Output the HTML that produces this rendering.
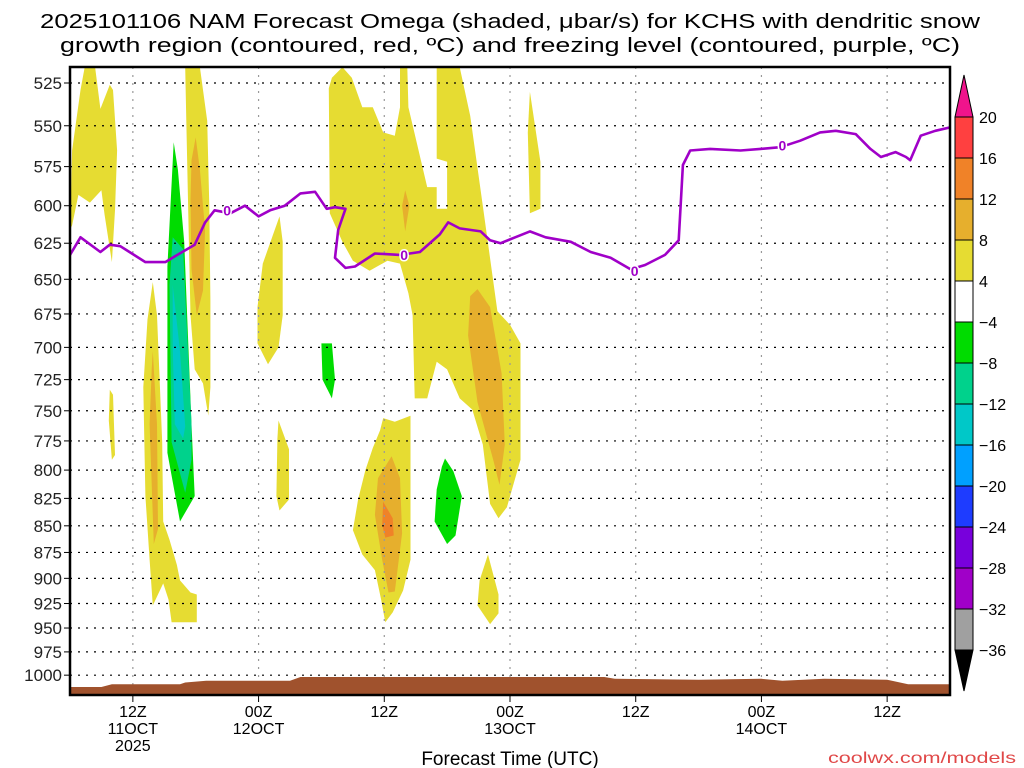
<!DOCTYPE html>
<html><head><meta charset="utf-8"><style>
html,body{margin:0;padding:0;background:#fff;width:1024px;height:768px;overflow:hidden}
svg{display:block;font-family:"Liberation Sans",sans-serif}
</style></head><body>
<svg id="chart" width="1024" height="768" viewBox="0 0 1024 768" xmlns="http://www.w3.org/2000/svg">
<text x="510" y="28" font-size="20" text-anchor="middle" textLength="940" lengthAdjust="spacingAndGlyphs" fill="#000">2025101106 NAM Forecast Omega (shaded, μbar/s) for KCHS with dendritic snow</text>
<text x="510" y="52" font-size="20" text-anchor="middle" textLength="900" lengthAdjust="spacingAndGlyphs" fill="#000">growth region (contoured, red, ºC) and freezing level (contoured, purple, ºC)</text>
<g id="plot"></g>
<g id="cbar"></g>
<text x="510" y="765" font-size="19" text-anchor="middle" fill="#000">Forecast Time (UTC)</text>
<text x="1016" y="763" font-size="16" text-anchor="end" fill="#e04848" textLength="188" lengthAdjust="spacingAndGlyphs">coolwx.com/models</text>
</svg>
<script>
// ---- data ----
const pressureTicks = [525,550,575,600,625,650,675,700,725,750,775,800,825,850,875,900,925,950,975,1000];
const timeTickHours = [6,18,30,42,54,66,78];
const timeTickLabels = [["12Z","11OCT","2025"],["00Z","12OCT"],["12Z"],["00Z","13OCT"],["12Z"],["00Z","14OCT"],["12Z"]];
const freezeHours = [0,1.0,2.9,3.8,4.8,7.2,9.1,10.0,11.9,12.9,13.8,15.3,16.7,18.0,19.1,20.5,22.0,23.4,24.5,25.3,26.3,25.6,25.3,26.3,27.2,29.1,31.5,33.4,35.3,36.1,37.2,39.2,40.1,41.1,42.5,43.9,45.4,47.8,49.7,51.6,53.5,54.9,56.8,58.1,58.5,59.2,61.1,64.0,65.9,67.8,69.7,71.6,73.1,75.0,76.4,77.4,78.8,79.8,80.2,81.2,82.6,84];
const freezePressure = [633,621,631,626,627,638,638,634,626,611,603,605,600,607,603,600,592,591,602,601,602,616,635,642,641,632,633,631,619,611,615,617,623,625,621,617,621,624,631,635,643,640,633,623,574,565,564,565,564,563,559,554,553,555,564,569,566,569,571,556,553,551];
const freezeLabelHours = [15.0,31.9,53.9,68.0];
const freezeLabelPressure = [603,633,644,562];
const terrainHours = [0,3.0,4.0,10.5,11.0,13.0,21.0,22.0,51.0,52,60,66,68,72,78,80,84];
const terrainPressure = [1013,1013,1010,1010,1008,1006,1006,1002,1002,1004,1005,1004,1006,1004,1005,1010,1010];
const cbarLevels = [20,16,12,8,4,-4,-8,-12,-16,-20,-24,-28,-32,-36];
const cbarColors = ["#ff4040","#f08228","#e6af2d","#e6dc32","#ffffff","#00dc00","#00d28c","#00c8c8","#00a0ff","#1e3cff","#7800dc","#a000c8","#a0a0a0"];
// omega shaded regions: [level, [hour, hPa] ...]
const omegaLevels = [4,4,4,4,8,-4,-8,-12,4,8,4,4,-4,4,8,8,4,4,8,12,-4,4];
const omegaRegions = [
 [[0,616],[0.2,565],[1,529],[1.4,516],[2.4,516],[2.9,540],[3.8,526],[4.1,529],[4.5,565],[4.3,603],[4.0,638],[3.3,606],[3.0,590],[1.9,598],[0.8,593],[0.2,613]],
 [[3.8,733],[4.1,737],[4.3,787],[4.0,791],[3.7,758]],
 [[11.0,516],[12.4,516],[13.1,547],[13.3,600],[13.4,665],[13.4,731],[13.2,754],[12.7,728],[11.9,717],[11.5,676],[11.3,609],[11.1,547]],
 [[7.9,652],[8.3,676],[8.8,776],[8.9,846],[9.5,863],[10.2,887],[10.5,902],[11.5,914],[12.1,916],[12.1,944],[9.7,944],[9.4,921],[8.9,905],[7.9,927],[7.6,882],[7.2,823],[7.0,731],[7.4,679]],
 [[12.0,557],[12.4,577],[12.9,616],[12.7,658],[12.1,676],[11.6,643],[11.5,596],[11.6,571]],
 [[9.9,560],[10.3,577],[10.9,624],[11.6,761],[11.9,823],[10.5,846],[9.3,785],[9.3,641]],
 [[9.8,621],[10.8,629],[11.6,761],[11.6,791],[11.0,820],[9.7,776],[9.5,654]],
 [[9.8,654],[10.5,703],[11.0,763],[10.8,773],[10.0,761],[9.8,700]],
 [[20.0,607],[20.3,624],[20.3,676],[19.9,700],[18.9,713],[17.9,697],[17.9,670],[18.4,639]],
 [[7.9,703],[8.3,761],[8.4,853],[8.0,867],[7.6,761],[7.8,717]],
 [[19.9,758],[20.9,782],[20.9,826],[20.0,836],[19.7,823],[19.8,773]],
 [[25.0,522],[26.0,516],[26.9,522],[27.9,539],[28.9,539],[29.9,554],[31.0,556],[31.5,539],[31.5,516],[32.2,516],[32.3,539],[34.1,588],[35.0,588],[35.0,602],[36.0,602],[36.0,572],[35.0,570],[35.0,516],[37.2,516],[38.2,544],[39.4,600],[40.8,673],[42.0,683],[43.0,697],[43.0,791],[41.7,833],[40.9,843],[40.1,830],[39.4,778],[38.4,749],[37.2,740],[36.0,717],[35.0,711],[34.1,740],[32.9,740],[32.7,676],[32.3,660],[31.5,639],[30.3,637],[28.6,644],[27.0,637],[26.0,624],[24.8,605],[24.7,528]],
 [[24.0,697],[25.0,697],[25.3,725],[25.0,740],[24.1,725]],
 [[43.9,530],[44.9,572],[44.9,602],[43.9,605],[43.7,554]],
 [[38.2,662],[38.9,657],[40.1,670],[41.2,720],[41.5,778],[41.0,813],[40.4,791],[38.9,743],[38.0,691]],
 [[32.0,590],[32.4,600],[32.0,617],[31.7,600]],
 [[29.9,756],[31.0,759],[32.5,754],[32.5,882],[31.8,912],[30.8,934],[30.1,944],[29.7,921],[29.1,892],[27.9,877],[27.0,854],[27.5,826],[28.2,800],[28.9,781],[29.6,766]],
 [[39.9,877],[40.9,916],[40.9,935],[40.1,946],[38.9,927],[39.1,902]],
 [[30.7,788],[31.5,807],[31.7,857],[31.0,913],[30.4,914],[29.8,882],[29.1,840],[29.4,807]],
 [[29.9,828],[30.8,843],[30.9,859],[30.1,861],[29.8,849]],
 [[35.8,790],[36.6,801],[37.4,823],[36.8,859],[36.0,867],[34.8,846],[35.0,817],[35.5,797]],
 [[0,0]]
];
// ---- axes ----
const X0=70,X1=950,Y0=67,Y1=695,H0=0,H1=84,PREF=525,YREF=83,YK=919;
function xs(h){return X0+(h-H0)/(H1-H0)*(X1-X0);}
function ys(p){return YREF+YK*Math.log(p/PREF);}
const NS="http://www.w3.org/2000/svg";
function mk(tag,attrs,parent){const e=document.createElementNS(NS,tag);for(const k in attrs)e.setAttribute(k,attrs[k]);parent.appendChild(e);return e;}
const plot=document.getElementById('plot');
const cb=document.getElementById('cbar');
function colorFor(l){return l>=12?"#f08228":l>=8?"#e6af2d":l>=4?"#e6dc32":l<=-12?"#00c8c8":l<=-8?"#00d28c":"#00dc00";}
const defs=mk('defs',{},plot);
const cp=mk('clipPath',{id:'clip'},defs);
mk('rect',{x:X0,y:Y0,width:X1-X0,height:Y1-Y0},cp);
const clipG=mk('g',{'clip-path':'url(#clip)'},plot);
omegaRegions.forEach((poly,i)=>{
  if(poly.length<3)return;
  const pg=mk('polygon',{points:poly.map(q=>xs(q[0]).toFixed(1)+','+ys(q[1]).toFixed(1)).join(' '),fill:colorFor(omegaLevels[i])},clipG);
  
  
});
// grid
pressureTicks.forEach(p=>{
  const y=ys(p);
  const l=mk('line',{x1:X0,x2:X1,y1:y,y2:y,stroke:'#000','stroke-width':1.2,'stroke-dasharray':'2 6'},clipG);
  
  
  const tk=mk('line',{x1:X0-6,x2:X0,y1:y,y2:y,stroke:'#000','stroke-width':1},plot);
  
  
  const t=mk('text',{x:X0-8,y:y+6,'font-size':17,'text-anchor':'end',fill:'#222'},plot);
  t.textContent=p;
  
  
});
timeTickHours.forEach((h,i)=>{
  const x=xs(h);
  const l=mk('line',{x1:x,x2:x,y1:Y0,y2:Y1,stroke:'#999','stroke-width':1.2,'stroke-dasharray':'2 6'},clipG);
  
  
  const tk=mk('line',{x1:x,x2:x,y1:Y1,y2:Y1+7,stroke:'#000','stroke-width':1},plot);
  
  
  timeTickLabels[i].forEach((s,j)=>{
    const t=mk('text',{x:x,y:Y1+22+j*17,'font-size':16,'text-anchor':'middle',fill:'#000'},plot);
    t.textContent=s;
    
    
  });
});
// terrain
let tp='M'+xs(terrainHours[0])+','+Y1;
terrainHours.forEach((h,i)=>{tp+=' L'+xs(h).toFixed(1)+','+ys(terrainPressure[i]).toFixed(1);});
tp+=' L'+xs(terrainHours[terrainHours.length-1])+','+Y1+' Z';
const terr=mk('path',{d:tp,fill:'#a0522d'},clipG);


// freezing level
const fl=mk('polyline',{points:freezeHours.map((h,i)=>xs(h).toFixed(1)+','+ys(freezePressure[i]).toFixed(1)).join(' '),fill:'none',stroke:'#a000c8','stroke-width':2.6,'stroke-linejoin':'round'},clipG);


freezeLabelHours.forEach((h,i)=>{
  const x=xs(h),y=ys(freezeLabelPressure[i]);
  mk('rect',{x:x-5,y:y-7,width:10,height:14,fill:'#fff',opacity:0},clipG);
  const t=mk('text',{x:x,y:y+5,'font-size':14,'font-weight':'bold','text-anchor':'middle',fill:'#a000c8',stroke:'#fff','stroke-width':3,'paint-order':'stroke'},clipG);
  t.textContent='0';
  
  
});
const fr=mk('rect',{x:X0,y:Y0,width:X1-X0,height:Y1-Y0,fill:'none',stroke:'#000','stroke-width':2.5},plot);


// colorbar
const CX=955,CW=18,CT=117,CB=650,bh=(CB-CT)/cbarColors.length;
const tri1=mk('polygon',{points:`${CX},${CT} ${CX+CW},${CT} ${CX+CW/2},${75}`,fill:'#f0148c',stroke:'#000','stroke-width':1},cb);


cbarColors.forEach((c,i)=>{
  const r=mk('rect',{x:CX,y:CT+i*bh,width:CW,height:bh,fill:c,stroke:'#000','stroke-width':1},cb);
  
  
});
const tri2=mk('polygon',{points:`${CX},${CB} ${CX+CW},${CB} ${CX+CW/2},${691}`,fill:'#000',stroke:'#000','stroke-width':1},cb);


cbarLevels.forEach((v,i)=>{
  const t=mk('text',{x:979,y:CT+i*bh+6,'font-size':16,fill:'#000'},cb);
  t.textContent=v<0?'\u2212'+(-v):String(v);
  
  
});
</script>
</body></html>
